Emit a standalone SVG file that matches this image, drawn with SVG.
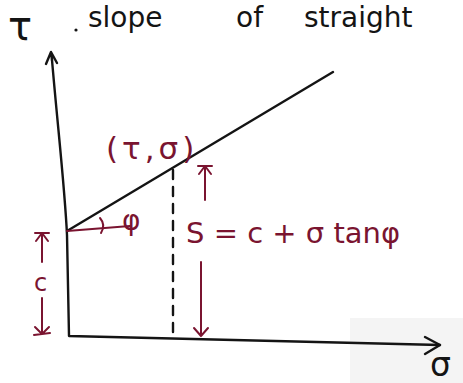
<svg xmlns="http://www.w3.org/2000/svg" width="463" height="383" viewBox="0 0 463 383">
<style>
.ink{stroke:#141414;stroke-width:2.4;fill:none;stroke-linecap:round;stroke-linejoin:round}
.red{stroke:#7a1430;stroke-width:2;fill:none;stroke-linecap:round;stroke-linejoin:round}
.tb{font-family:"DejaVu Sans",sans-serif;fill:#141414}
.tr{font-family:"DejaVu Sans",sans-serif;fill:#7a1430}
</style>
<rect width="463" height="383" fill="#ffffff"/>
<rect x="350" y="318" width="113" height="65" fill="#f4f4f4"/>
<g id="title">
<text class="tb" x="8" y="40" font-size="40">τ</text>
<circle cx="76" cy="30" r="1.6" fill="#141414"/>
<text class="tb" x="88" y="27" font-size="28">slope</text>
<text class="tb" x="236" y="27" font-size="28">of</text>
<text class="tb" x="304" y="27" font-size="28">straight</text>
</g>
<g id="axes">
<path class="ink" d="M52,60 C58,130 65,190 67,235 L69,336 L440,345"/>
</g>
<g id="failure-line">
<path class="ink" d="M67,231 L333,72"/>
<path class="ink" stroke-dasharray="9,8" stroke-width="2" d="M173,170 L173,336"/>
</g>
<g id="angle">
<path class="red" d="M67,231 L130,226"/>
<path class="red" d="M100,218 Q106,225 101,233"/>
<text class="tr" x="122" y="230" font-size="28">φ</text>
</g>
<g id="labels">
<text class="tr" x="106" y="159" font-size="31" letter-spacing="4">(τ,σ)</text>
<text class="tr" x="186" y="243" font-size="29">S = c + σ tanφ</text>
<text class="tr" x="34" y="291" font-size="24">c</text>
<text class="tb" x="430" y="376" font-size="33">σ</text>
</g>
<g id="connectors">
<path class="ink" d="M46,64 L51,52 L57,63 M51,52 L52,60"/>
<path class="ink" d="M425,337 L440,345 L425,354"/>
<path class="red" d="M205,200 L205,166 M198,166 L212,166 M199,174 L205,166 L211,174"/>
<path class="red" d="M201,262 L201,336 M194,328 L201,336 L208,328"/>
<path class="red" d="M42,262 L42,233 M35,233 L49,233 M36,241 L42,233 L48,241"/>
<path class="red" d="M42,298 L42,334 M35,327 L42,334 L49,327 M34,335 L50,333"/>
</g>
</svg>
